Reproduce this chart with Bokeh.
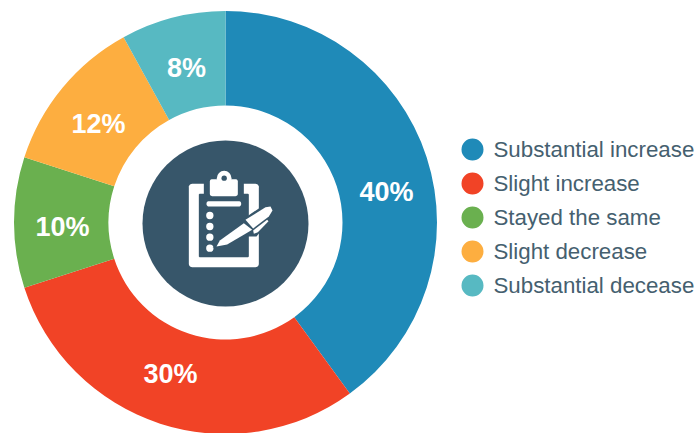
import math
from bokeh.plotting import figure
from bokeh.models import Range1d
from bokeh.core.properties import value
from bokeh.embed import file_html
from bokeh.resources import INLINE

categories = ["Substantial increase", "Slight increase", "Stayed the same", "Slight decrease", "Substantial decease"]
shares = [40, 30, 10, 12, 8]
share_labels = ["40%", "30%", "10%", "12%", "8%"]
colors = ["#1f8ab8", "#f14326", "#6ab04f", "#fdae40", "#57b9c2"]

W, H = 698, 433
S = 1.0
CX, CY = 225, 222
label_offsets = [(161, -31), (-55, 151), (-163, 4), (-127, -99), (-39, -155)]

p = figure(width=W, height=H, output_backend="svg", toolbar_location=None,
           x_range=Range1d(0, W), y_range=Range1d(H, 0), min_border=0,
           outline_line_color=None, background_fill_color="white", border_fill_color="white")
p.axis.visible = False
p.grid.visible = False

total = sum(shares)
cum = 0
for v, c in zip(shares, colors):
    a0 = -math.pi / 2 + 2 * math.pi * cum / total
    cum += v
    a1 = -math.pi / 2 + 2 * math.pi * cum / total
    p.annular_wedge(x=CX, y=CY, inner_radius=117 * S, outer_radius=211.5 * S,
                    start_angle=-a1, end_angle=-a0, direction="anticlock",
                    fill_color=c, line_color=None)

p.circle(x=CX, y=CY + 1, radius=83 * S, fill_color="#37566a", line_color=None)

def zx(x): return CX + (x / 3 + 130 - 225) * S
def zy(y): return CY + (y / 3 + 130 - 222) * S
def poly(pts, color):
    p.patch([zx(a) for a, _ in pts], [zy(b) for _, b in pts], fill_color=color, line_color=None)
def rrect(x0, y0, x1, y1, r, color):
    pts = []
    for cx_, cy_, st in [(x0 + r, y0 + r, 180), (x1 - r, y0 + r, 270), (x1 - r, y1 - r, 0), (x0 + r, y1 - r, 90)]:
        for k in range(7):
            t = math.radians(st + 15 * k)
            pts.append((cx_ + r * math.cos(t), cy_ + r * math.sin(t)))
    poly(pts, color)
def disc(x, y, r, color):
    p.circle(x=zx(x), y=zy(y), radius=r / 3 * S, fill_color=color, line_color=None)

DARK, WHITE = "#37566a", "#ffffff"
rrect(175, 160, 385, 410, 10, WHITE)
rrect(205, 190, 355, 380, 3, DARK)
rrect(220, 150, 340, 205, 6, DARK)
disc(281, 143, 22, WHITE)
rrect(238, 146, 322, 197, 7, WHITE)
disc(281, 143, 8, DARK)
rrect(228, 212, 332, 228, 7, WHITE)
for yy in (255, 288, 320, 353):
    disc(238, yy, 11, WHITE)
poly([(246, 352), (335, 268), (408, 218), (436, 232), (424, 262), (378, 318), (350, 318)], DARK)
poly([(258, 348), (268, 330), (340, 278), (365, 298), (345, 310), (290, 342)], WHITE)
poly([(345, 268), (405, 230), (420, 228), (426, 240), (415, 258), (368, 294)], WHITE)
poly([(368, 300), (410, 268), (414, 272), (382, 305), (370, 310)], WHITE)

for (dx, dy), t in zip(label_offsets, share_labels):
    p.text(x=[CX + dx * S], y=[CY + dy * S], text=[t], text_color="white",
           text_font=value("Liberation Sans"), text_font_style="bold", text_font_size="27px",
           text_align="center", text_baseline="middle")

LEG_Y0, LEG_DY = 149, 34
for i, (name, c) in enumerate(zip(categories, colors)):
    yy = LEG_Y0 + i * LEG_DY
    p.circle(x=472, y=yy, radius=11, fill_color=c, line_color=None)
    p.text(x=[493], y=[yy], text=[name], text_color="#45606f",
           text_font=value("Liberation Sans"), text_font_size="22.3px",
           text_align="left", text_baseline="middle")

open("out.html", "w").write(file_html(p, INLINE))
